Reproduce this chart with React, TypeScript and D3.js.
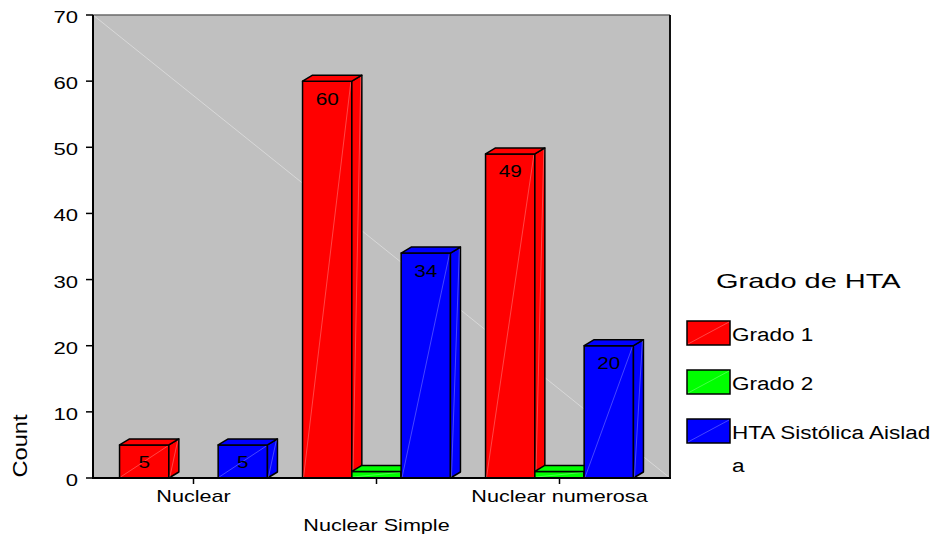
import React from "react";
import * as d3 from "d3";

const categories = ["Nuclear", "Nuclear Simple", "Nuclear numerosa"];
const seriesNames = ["Grado 1", "Grado 2", "HTA Sistólica Aislada"];
const grado1 = [5, 60, 49];
const grado2 = [0, 1, 1];
const htaSistolica = [5, 34, 20];
const seriesColors = ["#FF0000", "#00FF00", "#0000FF"];
const yTicks = [0, 10, 20, 30, 40, 50, 60, 70];
const legendTitle = "Grado de HTA";
const yTitle = "Count";

const W = 942;
const H = 537;
const plot = { left: 93, top: 15, right: 670, bottom: 478 };
const depth = { dx: 10, dy: -6 };
const FONT = "'Liberation Sans', Arial, sans-serif";

function T({ x, y, s = 1.25, size = 17, anchor = "start", rotate = 0, children }: any) {
  return (
    <g transform={`translate(${x},${y}) rotate(${rotate}) scale(${s},1)`}>
      <text x={0} y={0} fontFamily={FONT} fontSize={size} textAnchor={anchor} fill="#000">
        {children}
      </text>
    </g>
  );
}

function Bar3D({ x, w, y0, y1, color, label }: any) {
  const { dx, dy } = depth;
  const front = `M${x},${y0}L${x + w},${y0}L${x + w},${y1}L${x},${y1}Z`;
  const top = `M${x},${y1}L${x + dx},${y1 + dy}L${x + w + dx},${y1 + dy}L${x + w},${y1}Z`;
  const side = `M${x + w},${y0}L${x + w + dx},${y0 + dy}L${x + w + dx},${y1 + dy}L${x + w},${y1}Z`;
  return (
    <g>
      <path d={front} fill={color} stroke="#000" strokeWidth={1.5} strokeLinejoin="round" />
      <line x1={x + 1} y1={y0 - 1} x2={x + w - 1} y2={y1 + 1} stroke="#fff" strokeOpacity={0.35} strokeWidth={0.8} />
      <path d={side} fill={color} stroke="#000" strokeWidth={1.5} strokeLinejoin="round" />
      <line x1={x + w + 1} y1={y0 - 1} x2={x + w + dx - 1} y2={y1 + dy + 1} stroke="#fff" strokeOpacity={0.35} strokeWidth={0.8} />
      <path d={top} fill={color} stroke="#000" strokeWidth={1.5} strokeLinejoin="round" />
      {label != null && (
        <T x={x + w / 2} y={y1 + 23.5} size={17} s={1.22} anchor="middle">
          {label}
        </T>
      )}
    </g>
  );
}

export default function App() {
  const series = [grado1, grado2, htaSistolica];
  const y = d3.scaleLinear().domain([0, 70]).range([plot.bottom, plot.top]);
  const x0 = d3.scaleBand<string>().domain(categories).range([102, 651]).padding(0);
  const x1 = d3
    .scaleBand<number>()
    .domain(d3.range(series.length))
    .range([0, x0.bandwidth()])
    .paddingInner(0)
    .paddingOuter(0.356);

  const bars: any[] = [];
  categories.forEach((c, ci) => {
    series.forEach((vals, si) => {
      const v = vals[ci];
      if (v <= 0) return;
      bars.push(
        <Bar3D
          key={`${ci}-${si}`}
          x={(x0(c) as number) + (x1(si) as number)}
          w={x1.bandwidth()}
          y0={y(0)}
          y1={y(v)}
          color={seriesColors[si]}
          label={v >= 3 ? String(v) : null}
        />
      );
    });
  });

  const wrap = (s: string, n: number) => {
    const out: string[] = [];
    for (let i = 0; i < s.length; i += n) out.push(s.slice(i, i + n));
    return out;
  };

  return (
    <svg width={W} height={H} viewBox={`0 0 ${W} ${H}`} style={{ display: "block", position: "absolute", left: 0, top: 0, background: "#fff" }}>
      <rect x={plot.left} y={plot.top} width={plot.right - plot.left} height={plot.bottom - plot.top} fill="#C0C0C0" stroke="none" />
      <line x1={plot.left} y1={plot.top} x2={plot.right} y2={plot.top} stroke="#6a6a6a" strokeWidth={1.5} />
      <line x1={plot.right} y1={plot.top} x2={plot.right} y2={plot.bottom} stroke="#111" strokeWidth={2} />
      <line x1={plot.left} y1={plot.top} x2={plot.right} y2={plot.bottom} stroke="#e2e2e2" strokeWidth={0.7} />
      {bars}
      {/* axes */}
      <line x1={plot.left} y1={plot.top} x2={plot.left} y2={plot.bottom + 1} stroke="#000" strokeWidth={2} />
      <line x1={plot.left - 1} y1={plot.bottom} x2={plot.right + 1} y2={plot.bottom} stroke="#000" strokeWidth={2} />
      {yTicks.map((t) => (
        <g key={t}>
          <line x1={plot.left - 7} x2={plot.left} y1={y(t)} y2={y(t)} stroke="#000" strokeWidth={1.5} />
          <T x={78} y={y(t) + 8} size={17} s={1.3} anchor="end">
            {t}
          </T>
        </g>
      ))}
      {categories.map((c, i) => {
        const cx = (x0(c) as number) + x0.bandwidth() / 2;
        return (
          <g key={c}>
            <line x1={cx} x2={cx} y1={plot.bottom} y2={plot.bottom + 6} stroke="#000" strokeWidth={1.5} />
            <T x={cx} y={i % 2 === 0 ? 502 : 531} size={17} s={1.27} anchor="middle">
              {c}
            </T>
          </g>
        );
      })}
      <T x={27} y={446} size={20} s={1.18} rotate={-90} anchor="middle">
        {yTitle}
      </T>
      {/* legend */}
      <T x={716} y={288} size={21} s={1.38}>
        {legendTitle}
      </T>
      {seriesNames.map((name, i) => {
        const sy = 321 + i * 49;
        const lines = wrap(name, 20);
        return (
          <g key={name}>
            <rect x={687} y={sy} width={43} height={24} fill={seriesColors[i]} stroke="#000" strokeWidth={1.5} />
            <line x1={688} y1={sy + 23} x2={729} y2={sy + 1} stroke="#fff" strokeOpacity={0.35} strokeWidth={0.8} />
            {lines.map((ln, li) => (
              <T key={li} x={732} y={sy + 20 + li * 33} size={18} s={1.25}>
                {ln}
              </T>
            ))}
          </g>
        );
      })}
    </svg>
  );
}
